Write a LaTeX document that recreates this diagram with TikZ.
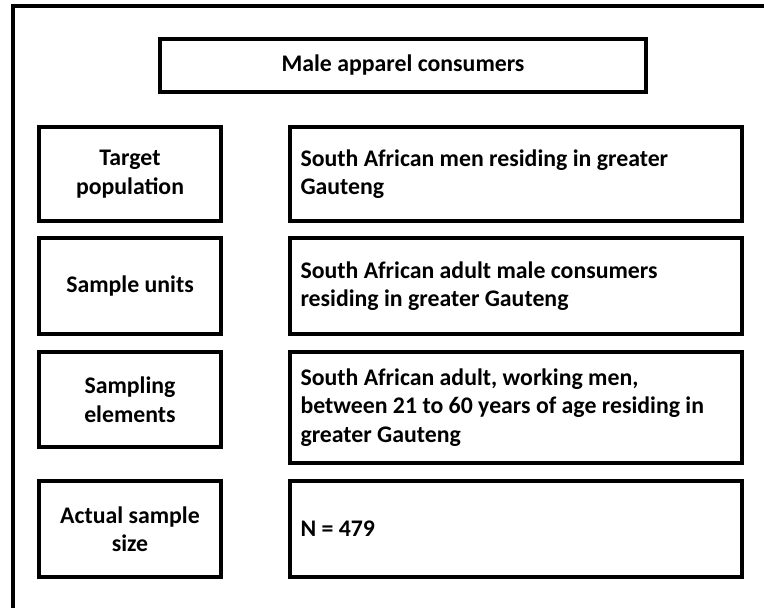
\documentclass[tikz,border=0pt]{standalone}
\usepackage{fontspec}
\setmainfont{Carlito}
\usetikzlibrary{positioning}

\begin{document}
\begin{tikzpicture}[
  x=1pt, y=-1pt, node distance=18pt,
  font=\bfseries\fontsize{23.8}{28.5}\selectfont,
  box/.style={draw, rectangle, line width=3.4pt, outer sep=0pt, inner sep=0pt},
  headbox/.style={box, minimum width=486pt, minimum height=53pt},
  lbox/.style={box, minimum width=182pt, align=center},
  rbox/.style={box, minimum width=452pt, text width=431pt, align=flush left}
]
\clip (0,0) rectangle (764,608);
\fill[white] (0,0) rectangle (764,608);
\draw[line width=3.4pt] (13,6) rectangle (800,640);

\node[headbox] (males) at (403,65.5) {Male apparel consumers};

\node[lbox, minimum height=94pt] (target) at (130,174) {Target\\population};
\node[rbox, minimum height=94pt, right=69pt of target] (targetd)
  {South African men residing in greater\\Gauteng};

\node[lbox, minimum height=96pt, below=17pt of target] (units) {Sample units};
\node[rbox, minimum height=96pt, right=69pt of units] (unitsd)
  {South African adult male consumers\\residing in greater Gauteng};

\node[lbox, minimum height=95pt, below=of units] (elems) {Sampling\\elements};
\node[rbox, minimum height=111pt, below=of unitsd] (elemsd)
  {South African adult, working men,\\between 21 to 60 years of age residing in\\greater Gauteng};

\node[rbox, minimum height=96pt, below=of elemsd] (sized) {N = 479};
\node[lbox, minimum height=96pt, left=69pt of sized] (size) {Actual sample\\size};

\end{tikzpicture}
\end{document}
